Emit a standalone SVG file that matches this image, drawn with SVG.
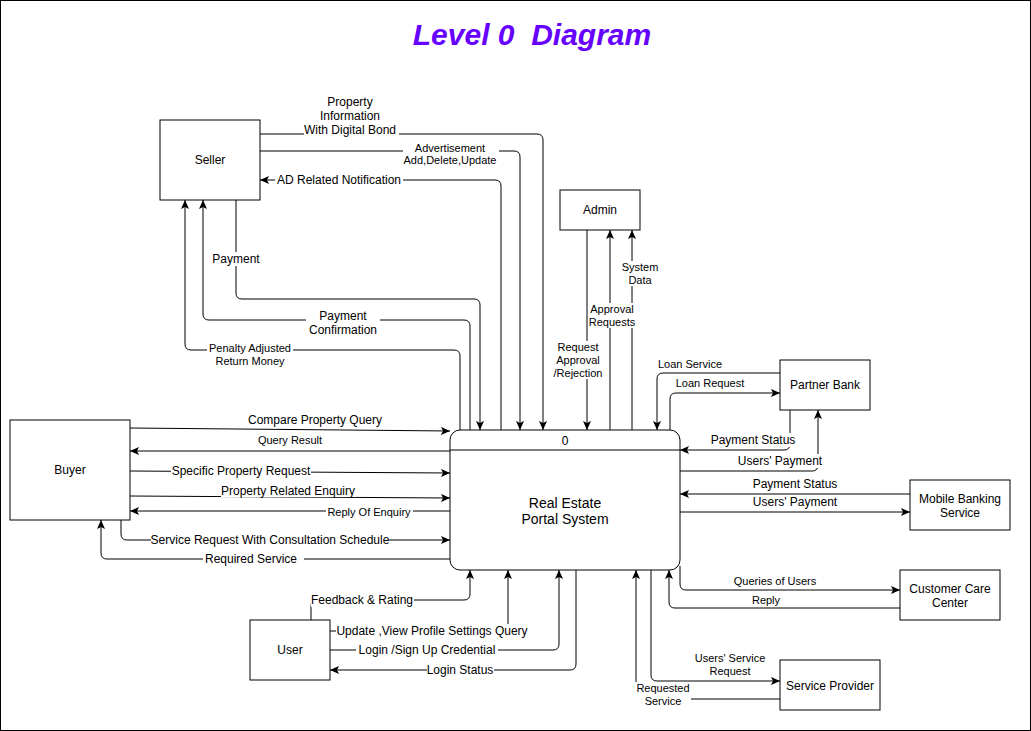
<svg xmlns="http://www.w3.org/2000/svg" width="1031" height="731" viewBox="0 0 1031 731">
<style>
.box{fill:#fff;stroke:#000;stroke-width:1}
.t{font-family:"Liberation Sans",Arial,sans-serif;font-size:12px;fill:#000;text-anchor:middle}
.s{font-size:11px}
.c{fill:none;stroke:#000;stroke-width:1;marker-end:url(#arr)}
.bg{fill:#fff;stroke:none}
.title{font-family:"Liberation Sans",Arial,sans-serif;font-size:30px;font-weight:bold;font-style:italic;fill:#6600ff;text-anchor:middle;white-space:pre}
</style>
<defs>
<marker id="arr" viewBox="0 0 10 8" markerWidth="10" markerHeight="8" refX="9" refY="4" orient="auto" markerUnits="userSpaceOnUse">
<path d="M0,0 L9,4 L0,8 L2,4 Z" fill="#000"/>
</marker>
</defs>
<rect x="0" y="0" width="1031" height="731" fill="#fff"/>
<rect x="0.5" y="0.5" width="1030" height="730" fill="none" stroke="#000"/>
<text class="title" x="532" y="45" xml:space="preserve">Level 0  Diagram</text>

<g id="connectors">
<path class="c" d="M260,134 H537 Q543,134 543,140 V430"/>
<path class="c" d="M260,151 H514 Q520,151 520,157 V430"/>
<path class="c" d="M501,430 V186 Q501,180 495,180 H260"/>
<path class="c" d="M236,200 V293 Q236,299 242,299 H474 Q480,299 480,305 V430"/>
<path class="c" d="M470,430 V326 Q470,320 464,320 H209 Q203,320 203,314 V200"/>
<path class="c" d="M460,430 V356 Q460,350 454,350 H191 Q185,350 185,344 V200"/>
<path class="c" d="M587,230 V430"/>
<path class="c" d="M610,430 V230"/>
<path class="c" d="M632,430 V230"/>
<path class="c" d="M780,373 H663 Q657,373 657,379 V430"/>
<path class="c" d="M670,430 V399 Q670,393 676,393 H780"/>
<path class="c" d="M790,410 V444 Q790,450 784,450 H680"/>
<path class="c" d="M680,471 H812 Q818,471 818,465 V410"/>
<path class="c" d="M910,494 H680"/>
<path class="c" d="M680,512 H910"/>
<path class="c" d="M680,566 V584 Q680,590 686,590 H900"/>
<path class="c" d="M900,608 H675 Q669,608 669,602 V570"/>
<path class="c" d="M651,570 V675 Q651,681 657,681 H780"/>
<path class="c" d="M780,699 H642 Q636,699 636,693 V570"/>
<path class="c" d="M311,620 V606 Q311,600 317,600 H464 Q470,600 470,594 V570"/>
<path class="c" d="M330,631 H502 Q508,631 508,625 V570"/>
<path class="c" d="M330,650 H553 Q559,650 559,644 V570"/>
<path class="c" d="M576,570 V664 Q576,670 570,670 H330"/>
<path class="c" d="M130,428 L450,431"/>
<path class="c" d="M450,451 H130"/>
<path class="c" d="M130,471 L450,473"/>
<path class="c" d="M130,496 L450,498"/>
<path class="c" d="M450,511 H130"/>
<path class="c" d="M121,520 V534 Q121,540 127,540 H450"/>
<path class="c" d="M450,559 H107 Q101,559 101,553 V520"/>

<g id="labels">
<rect class="bg" x="304" y="124" width="95" height="14"/>
<text class="t" x="350" y="106">Property</text>
<text class="t" x="350" y="120">Information</text>
<text class="t" x="350" y="134">With Digital Bond</text>

<rect class="bg" x="403" y="142" width="96" height="24"/>
<text class="t s" x="450" y="152">Advertisement</text>
<text class="t s" x="450" y="164">Add,Delete,Update</text>

<rect class="bg" x="275" y="173" width="128" height="14"/>
<text class="t" x="339" y="184">AD Related Notification</text>

<rect class="bg" x="211" y="252" width="50" height="14"/>
<text class="t" x="236" y="263">Payment</text>

<rect class="bg" x="306" y="309" width="74" height="28"/>
<text class="t" x="343" y="320">Payment</text>
<text class="t" x="343" y="334">Confirmation</text>

<rect class="bg" x="207" y="342" width="86" height="25"/>
<text class="t s" x="250" y="352">Penalty Adjusted</text>
<text class="t s" x="250" y="365">Return Money</text>

<rect class="bg" x="621" y="261" width="38" height="25"/>
<text class="t s" x="640" y="271">System</text>
<text class="t s" x="640" y="284">Data</text>

<rect class="bg" x="588" y="303" width="48" height="25"/>
<text class="t s" x="612" y="313">Approval</text>
<text class="t s" x="612" y="326">Requests</text>

<rect class="bg" x="553" y="341" width="50" height="38"/>
<text class="t s" x="578" y="351">Request</text>
<text class="t s" x="578" y="364">Approval</text>
<text class="t s" x="578" y="377">/Rejection</text>

<text class="t s" x="690" y="368">Loan Service</text>
<text class="t s" x="710" y="387">Loan Request</text>

<rect class="bg" x="711" y="433" width="86" height="14"/>
<text class="t" x="753" y="444">Payment Status</text>
<rect class="bg" x="737" y="454" width="87" height="14"/>
<text class="t" x="780" y="465">Users' Payment</text>

<text class="t" x="795" y="488">Payment Status</text>
<text class="t" x="795" y="506">Users' Payment</text>

<text class="t s" x="775" y="585">Queries of Users</text>
<text class="t s" x="766" y="604">Reply</text>

<text class="t s" x="730" y="662">Users' Service</text>
<text class="t s" x="730" y="675">Request</text>

<rect class="bg" x="635" y="682" width="56" height="26"/>
<text class="t s" x="663" y="692">Requested</text>
<text class="t s" x="663" y="705">Service</text>

<rect class="bg" x="311" y="593" width="103" height="14"/>
<text class="t" x="362" y="604">Feedback &amp; Rating</text>
<rect class="bg" x="336" y="624" width="193" height="14"/>
<text class="t" x="432" y="635">Update ,View Profile Settings Query</text>
<rect class="bg" x="356" y="643" width="142" height="14"/>
<text class="t" x="427" y="654">Login /Sign Up Credential</text>
<rect class="bg" x="427" y="663" width="67" height="14"/>
<text class="t" x="460" y="674">Login Status</text>

<text class="t" x="315" y="424">Compare Property Query</text>
<text class="t s" x="290" y="444">Query Result</text>
<rect class="bg" x="171" y="464" width="140" height="14"/>
<text class="t" x="241" y="475">Specific Property Request</text>
<rect class="bg" x="221" y="484" width="135" height="13"/>
<text class="t" x="288" y="495">Property Related Enquiry</text>
<rect class="bg" x="326" y="505" width="87" height="14"/>
<text class="t s" x="369" y="516">Reply Of Enquiry</text>
<rect class="bg" x="151" y="533" width="238" height="14"/>
<text class="t" x="270" y="544">Service Request With Consultation Schedule</text>
<rect class="bg" x="203" y="552" width="101" height="14"/>
<text class="t" x="251" y="563">Required Service</text>
</g>
</g>

<g id="node-system">
<rect class="box" x="450" y="430" width="230" height="140" rx="10" ry="10"/>
<path d="M450,450 H680" stroke="#000" fill="none"/>
<text class="t" x="565" y="445">0</text>
<text class="t" style="font-size:14px" x="565" y="508">Real Estate</text>
<text class="t" style="font-size:14px" x="565" y="524">Portal System</text>
</g>
<g id="node-seller">
<rect class="box" x="160" y="120" width="100" height="80"/>
<text class="t" x="210" y="164">Seller</text>
</g>
<g id="node-admin">
<rect class="box" x="560" y="190" width="80" height="40"/>
<text class="t" x="600" y="214">Admin</text>
</g>
<g id="node-partner-bank">
<rect class="box" x="780" y="360" width="90" height="50"/>
<text class="t" x="825" y="389">Partner Bank</text>
</g>
<g id="node-buyer">
<rect class="box" x="10" y="420" width="120" height="100"/>
<text class="t" x="70" y="474">Buyer</text>
</g>
<g id="node-mobile-banking">
<rect class="box" x="910" y="480" width="100" height="50"/>
<text class="t" x="960" y="503">Mobile Banking</text>
<text class="t" x="960" y="517">Service</text>
</g>
<g id="node-customer-care">
<rect class="box" x="900" y="570" width="100" height="50"/>
<text class="t" x="950" y="593">Customer Care</text>
<text class="t" x="950" y="607">Center</text>
</g>
<g id="node-service-provider">
<rect class="box" x="780" y="660" width="100" height="50"/>
<text class="t" x="830" y="690">Service Provider</text>
</g>
<g id="node-user">
<rect class="box" x="250" y="620" width="80" height="60"/>
<text class="t" x="290" y="654">User</text>
</g>
</svg>
